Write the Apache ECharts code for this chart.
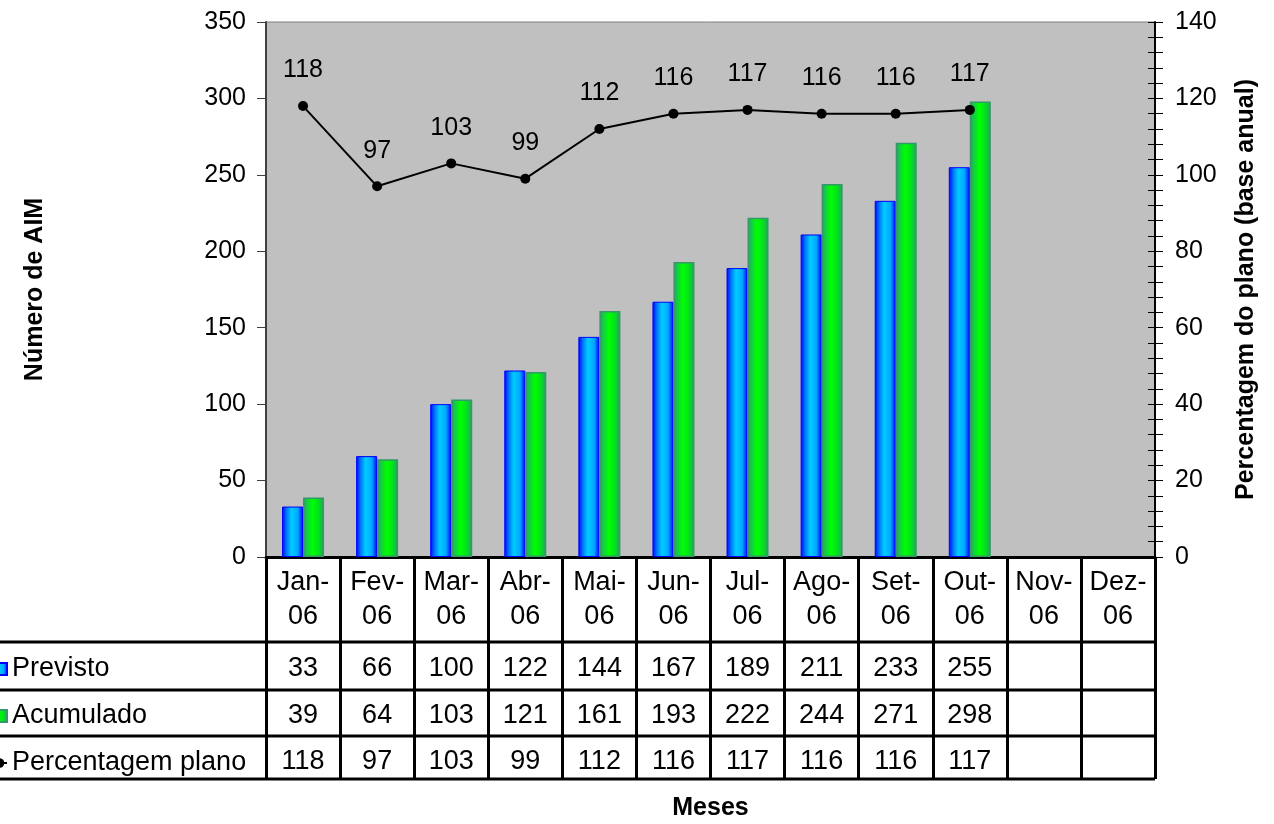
<!DOCTYPE html>
<html><head><meta charset="utf-8">
<script src="https://cdn.jsdelivr.net/npm/echarts@6/dist/echarts.min.js"></script>
<style>html,body{margin:0;padding:0;background:#fff}#c{width:1274px;height:824px}</style>
</head><body><div id="c"></div>
<script>
const months = ['Jan-\n06','Fev-\n06','Mar-\n06','Abr-\n06','Mai-\n06','Jun-\n06','Jul-\n06','Ago-\n06','Set-\n06','Out-\n06','Nov-\n06','Dez-\n06'];
const previsto = [33,66,100,122,144,167,189,211,233,255,null,null];
const acumulado = [39,64,103,121,161,193,222,244,271,298,null,null];
const percentagem = [118,97,103,99,112,116,117,116,116,117,null,null];
const leftTicks = {min:0, max:350, interval:50};
const rightTicks = {min:0, max:140, interval:20};

const FONT = 'Liberation Sans, Arial, sans-serif';
const G = {left:266, right:119, top:22, bottom:267};
const W = 1274, H = 824;
const axisY = H - G.bottom;          // 557
const rowCenters = [669, 716, 762];
const hLines = [642, 690, 736, 779];
const txt = v => v == null ? '' : String(v);

const chart = echarts.init(document.getElementById('c'), null, {renderer:'canvas'});

function tableAxis(vals, center) {
  return {
    type:'category', gridIndex:0, position:'bottom', data: vals.map(txt),
    offset: center - axisY,
    axisLine:{show:false}, axisTick:{show:false},
    axisLabel:{interval:0, margin:0, verticalAlign:'middle', fontSize:27, color:'#000', fontFamily:FONT}
  };
}

const option = {
  animation:false,
  textStyle:{fontFamily:FONT},
  grid:{left:G.left, right:G.right, top:G.top, bottom:G.bottom, show:true, outerBoundsMode:'none', containLabel:false,
        backgroundColor:'#C0C0C0', borderColor:'#808080', borderWidth:1},
  legend:{
    orient:'vertical', left:-14, top:649, itemGap:17, itemWidth:15, itemHeight:12,
    textStyle:{fontSize:27, color:'#000', fontFamily:FONT, lineHeight:30},
    data:[
      {name:'Previsto', icon:'rect'},
      {name:'Acumulado', icon:'rect'},
      {name:'Percentagem plano'}
    ]
  },
  xAxis:[
    {
      type:'category', data: months, gridIndex:0, position:'bottom',
      name:'Meses', nameLocation:'middle', nameGap:239,
      nameTextStyle:{fontSize:25, fontWeight:'bold', color:'#000', fontFamily:FONT},
      axisLine:{show:true, lineStyle:{color:'#000', width:3}},
      axisTick:{show:true, interval:0, length:222, lineStyle:{color:'#000', width:3}},
      axisLabel:{interval:0, margin:9, fontSize:27, lineHeight:34, color:'#000', fontFamily:FONT, align:'center'}
    },
    tableAxis(previsto, rowCenters[0]),
    tableAxis(acumulado, rowCenters[1]),
    tableAxis(percentagem, rowCenters[2])
  ],
  yAxis:[
    {
      type:'value', position:'left', min:leftTicks.min, max:leftTicks.max, interval:leftTicks.interval,
      name:'Número de AIM', nameLocation:'middle', nameGap:218, nameRotate:90,
      nameTextStyle:{fontSize:25, fontWeight:'bold', color:'#000', fontFamily:FONT},
      axisLine:{show:true, lineStyle:{color:'#404040', width:2}},
      axisTick:{show:true, length:9, lineStyle:{color:'#404040', width:1}},
      axisLabel:{fontSize:25, color:'#000', margin:20, fontFamily:FONT},
      splitLine:{show:false}
    },
    {
      type:'value', position:'right', min:rightTicks.min, max:rightTicks.max, interval:rightTicks.interval,
      name:'Percentagem do plano (base anual)', nameLocation:'middle', nameGap:79, nameRotate:90,
      nameTextStyle:{fontSize:25, fontWeight:'bold', color:'#000', fontFamily:FONT},
      axisLine:{show:true, lineStyle:{color:'#000', width:2}},
      axisTick:{show:true, length:8, lineStyle:{color:'#000', width:1}},
      minorTick:{show:true, splitNumber:5, length:8, lineStyle:{color:'#000', width:1}},
      axisLabel:{fontSize:25, color:'#000', margin:20, fontFamily:FONT},
      splitLine:{show:false}, minorSplitLine:{show:false}
    },
    {
      type:'value', position:'right', min:rightTicks.min, max:rightTicks.max, interval:rightTicks.interval,
      axisLine:{show:false},
      axisTick:{show:true, inside:true, length:7, lineStyle:{color:'#000', width:1}},
      minorTick:{show:true, splitNumber:5, length:7, lineStyle:{color:'#000', width:1}},
      axisLabel:{show:false}, splitLine:{show:false}
    }
  ],
  series:[
    {
      name:'Previsto', type:'bar', xAxisIndex:0, yAxisIndex:0, data:previsto,
      barWidth:21, barGap:'0%',
      itemStyle:{
        color:{type:'linear', x:0, y:0, x2:1, y2:0, colorStops:[
          {offset:0, color:'#0000FF'},{offset:0.2, color:'#0070FF'},{offset:0.45, color:'#00CCFF'},
          {offset:0.75, color:'#00A8FF'},{offset:1, color:'#0000FF'}]},
        borderColor:'#0000FF', borderWidth:1
      }
    },
    {
      name:'Acumulado', type:'bar', xAxisIndex:0, yAxisIndex:0, data:acumulado,
      barWidth:21, barGap:'0%',
      itemStyle:{
        color:{type:'linear', x:0, y:0, x2:1, y2:0, colorStops:[
          {offset:0, color:'#339966'},{offset:0.2, color:'#10D040'},{offset:0.45, color:'#00FF00'},
          {offset:0.75, color:'#00E020'},{offset:1, color:'#339966'}]},
        borderColor:'#339966', borderWidth:1.5
      }
    },
    {
      name:'Percentagem plano', type:'line', xAxisIndex:0, yAxisIndex:1, data:percentagem,
      symbol:'circle', symbolSize:10, connectNulls:false,
      lineStyle:{color:'#000', width:2}, itemStyle:{color:'#000'},
      label:{show:true, position:'top', distance:18, fontSize:25, color:'#000', fontFamily:FONT}
    }
  ],
  graphic: hLines.map(y => ({
    type:'line', shape:{x1:0, y1:y, x2:W - G.right, y2:y},
    style:{stroke:'#000', lineWidth:3}, z:10
  }))
};
chart.setOption(option);
</script>
</body></html>
